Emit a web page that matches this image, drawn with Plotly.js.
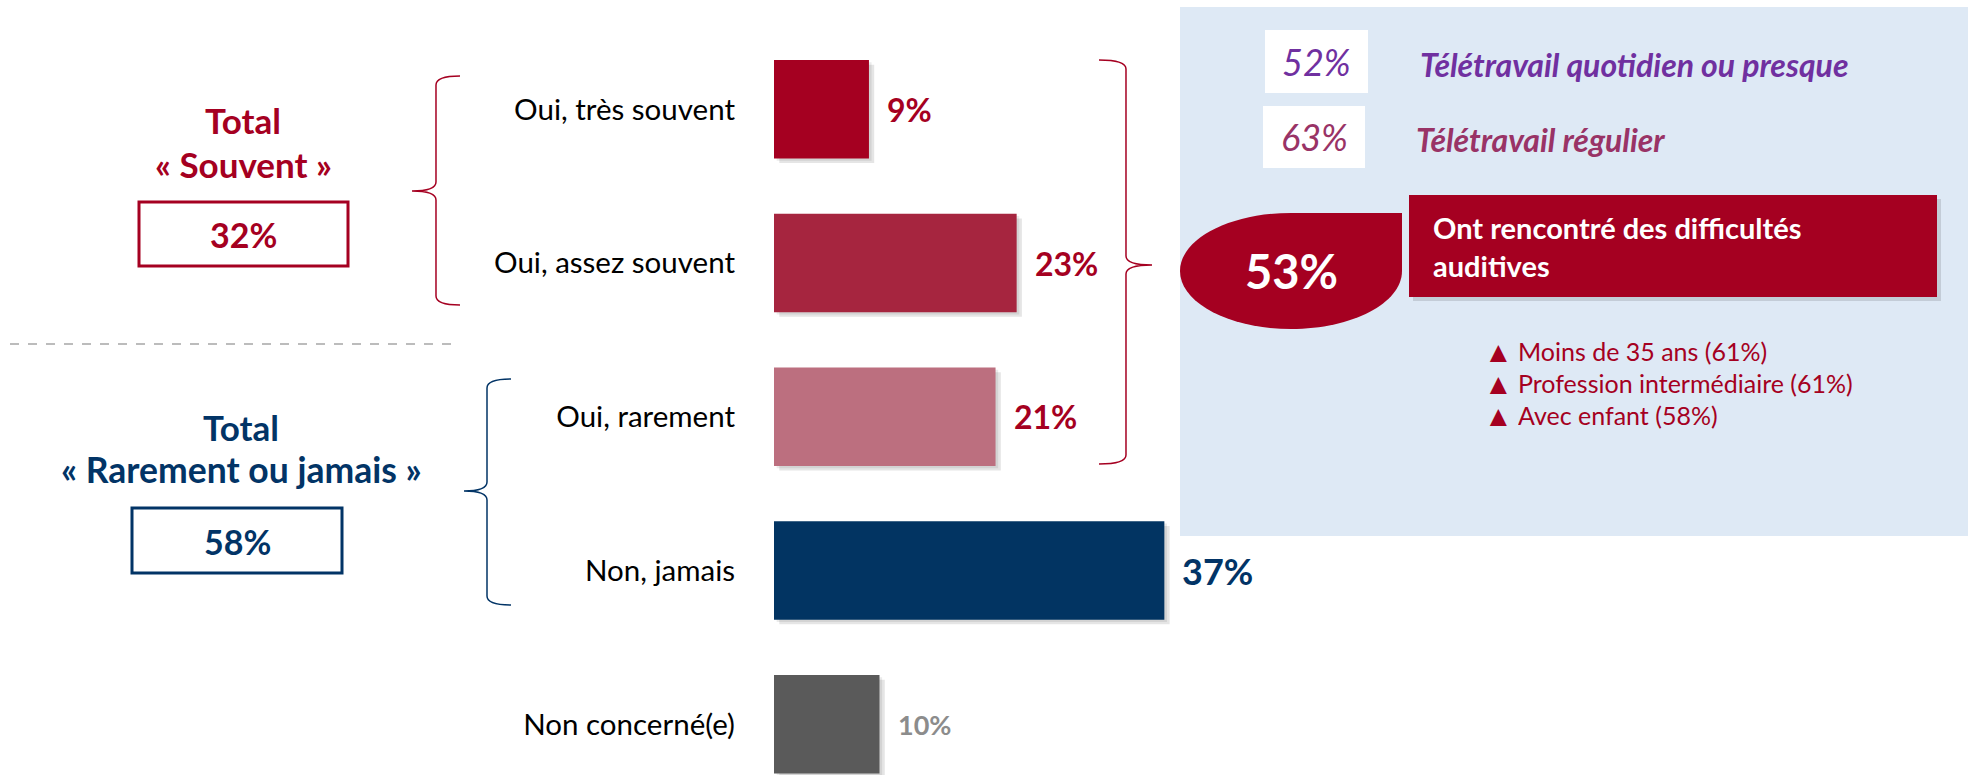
<!DOCTYPE html>
<html><head><meta charset="utf-8">
<script src="https://cdn.plot.ly/plotly-3.0.1.min.js"></script>
<style>html,body{margin:0;padding:0;background:#fff;}#chart{width:1968px;height:776px;}</style>
</head><body><div id="chart"></div>
<script>
// ---- data ----
const categories = ["Oui, très souvent", "Oui, assez souvent", "Oui, rarement", "Non, jamais", "Non concerné(e)"];
const values = [9, 23, 21, 37, 10];
const totalSouvent = 32;
const totalRarement = 58;
const teleQuotidien = 52;
const teleRegulier = 63;
const difficultes = 53;
const subgroups = ["Moins de 35 ans", "Profession intermédiaire", "Avec enfant"];
const subgroupValues = [61, 61, 58];

// ---- styles ----
const W = 1968, H = 776;
const RED = "#A50021", BLUE = "#023466";
const barColors = ["#A50021", "#A6253F", "#BC6F7F", "#023462", "#5A5A5A"];
const labelColors = [RED, RED, RED, BLUE, "#8C8C8C"];
const labelSizes = [32, 32, 32, 36, 27];
const FONT = "Lato, 'Open Sans', sans-serif";
const X = p => p / W;
const Y = p => 1 - p / H;
const pt = (x, y) => X(x).toFixed(5) + "," + Y(y).toFixed(5);

function brace(hx, vx, tx, top, mid, bot, r) {
  return "M" + pt(hx, top) + " Q" + pt(vx, top) + " " + pt(vx, top + r) +
    " L" + pt(vx, mid - r) + " Q" + pt(vx, mid) + " " + pt(tx, mid) +
    " Q" + pt(vx, mid) + " " + pt(vx, mid + r) +
    " L" + pt(vx, bot - r) + " Q" + pt(vx, bot) + " " + pt(hx, bot);
}
function drop(x0, x1, y0, y1) {
  const cx = (x0 + x1) / 2, cy = (y0 + y1) / 2, rx = (x1 - x0) / 2, ry = (y1 - y0) / 2, k = 0.5523;
  return "M" + pt(cx, y0) + " L" + pt(x1, y0) + " L" + pt(x1, cy) +
    " C" + pt(x1, cy + k * ry) + " " + pt(cx + k * rx, y1) + " " + pt(cx, y1) +
    " C" + pt(cx - k * rx, y1) + " " + pt(x0, cy + k * ry) + " " + pt(x0, cy) +
    " C" + pt(x0, cy - k * ry) + " " + pt(cx - k * rx, y0) + " " + pt(cx, y0) + " Z";
}
function rect(x0, x1, y0, y1, fill, line, lw, layer) {
  return {type: "rect", xref: "paper", yref: "paper", x0: X(x0), x1: X(x1), y0: Y(y1), y1: Y(y0),
    fillcolor: fill, line: {color: line || "rgba(0,0,0,0)", width: lw || 0}, layer: layer || "above"};
}
function path(d, color, width, fill, layer) {
  return {type: "path", xref: "paper", yref: "paper", path: d,
    line: {color: color, width: width}, fillcolor: fill || "rgba(0,0,0,0)", layer: layer || "above"};
}
function ann(x, y, text, size, color, opts) {
  return Object.assign({xref: "paper", yref: "paper", x: X(x), y: Y(y), text: text, showarrow: false,
    xanchor: "center", yanchor: "middle", font: {family: FONT, size: size, color: color}}, opts || {});
}

const traces = [
  {type: "bar", orientation: "h", y: categories, x: values, base: 0.5, width: 0.64, offset: -0.29,
   marker: {color: "rgba(0,0,0,0.10)"}, hoverinfo: "skip", showlegend: false},
  {type: "bar", orientation: "h", y: categories, x: values, base: 0.25, width: 0.64, offset: -0.305,
   marker: {color: "rgba(0,0,0,0.08)"}, hoverinfo: "skip", showlegend: false},
  {type: "bar", orientation: "h", y: categories, x: values, width: 0.64,
   marker: {color: barColors}, hoverinfo: "skip", showlegend: false}
];

const annotations = values.map((v, i) => ({
  xref: "x", yref: "y", x: v, y: categories[i], text: "<b>" + v + "%</b>", showarrow: false,
  xanchor: "left", yanchor: "middle", xshift: 16, font: {family: FONT, size: labelSizes[i], color: labelColors[i]}
}));

annotations.push(
  ann(243, 120, "<b>Total</b>", 35, RED),
  ann(243, 164, "<b>« Souvent »</b>", 35, RED),
  ann(243, 234, "<b>" + totalSouvent + "%</b>", 34, RED),
  ann(241, 427, "<b>Total</b>", 35, BLUE),
  ann(241, 470, "<b>« Rarement ou jamais »</b>", 35.5, BLUE),
  ann(237, 541, "<b>" + totalRarement + "%</b>", 34, BLUE),
  ann(1316, 62, "<i>" + teleQuotidien + "%</i>", 36, "#7030A0"),
  ann(1314, 137, "<i>" + teleRegulier + "%</i>", 36, "#993366"),
  ann(1418, 64, "<b><i>Télétravail quotidien ou presque</i></b>", 32, "#7030A0", {xanchor: "left"}),
  ann(1414, 139, "<b><i>Télétravail régulier</i></b>", 32, "#993366", {xanchor: "left"}),
  ann(1291, 271, "<b>" + difficultes + "%</b>", 47, "#FFFFFF"),
  ann(1431, 246, "<b>Ont rencontré des difficultés</b><br><b>auditives</b>", 29, "#FFFFFF", {xanchor: "left", align: "left"})
);
subgroups.forEach((g, i) => {
  annotations.push(ann(1482, 350 + i * 32, "▲", 29, RED, {xanchor: "left", height: 28}));
  annotations.push(ann(1516, 351 + i * 32, g + " (" + subgroupValues[i] + "%)", 25, RED, {xanchor: "left", height: 28}));
});

const shapes = [
  rect(1180, 1968, 7, 536, "#DEE9F5", null, 0, "below"),
  rect(1265, 1368, 30, 93, "#FFFFFF"),
  rect(1263, 1365, 106, 168, "#FFFFFF"),
  rect(1413, 1941, 199, 301, "rgba(0,0,0,0.12)"),
  rect(1409, 1937, 195, 297, RED),
  path(drop(1180, 1402, 213, 329), RED, 0, RED),
  rect(139, 348, 202, 266, "rgba(0,0,0,0)", RED, 3),
  rect(132, 342, 508, 573, "rgba(0,0,0,0)", BLUE, 3),
  {type: "line", xref: "paper", yref: "paper", x0: X(10), x1: X(453), y0: Y(344), y1: Y(344),
   line: {color: "#A6A6A6", width: 1.5, dash: "dash"}},
  path(brace(460, 436, 412, 76, 191, 305, 9), RED, 1.5),
  path(brace(511, 487, 464, 379, 491, 605, 9), BLUE, 1.5),
  path(brace(1099, 1126, 1152, 60, 265, 464, 9), RED, 1.5)
];

const layout = {
  width: W, height: H, margin: {l: 0, r: 0, t: 0, b: 0},
  paper_bgcolor: "#FFFFFF", plot_bgcolor: "rgba(0,0,0,0)",
  barmode: "overlay", showlegend: false,
  font: {family: FONT},
  xaxis: {domain: [X(774), X(1829)], range: [0, 100], visible: false, fixedrange: true},
  yaxis: {domain: [Y(775), Y(17)], type: "category", range: [4.33, -0.6], showgrid: false, zeroline: false,
    showline: false, ticks: "", ticklabelstandoff: 38, tickfont: {family: FONT, size: 29.5, color: "#000000"}, fixedrange: true},
  annotations: annotations, shapes: shapes
};

Plotly.newPlot("chart", traces, layout, {displayModeBar: false, staticPlot: true});
</script></body></html>
